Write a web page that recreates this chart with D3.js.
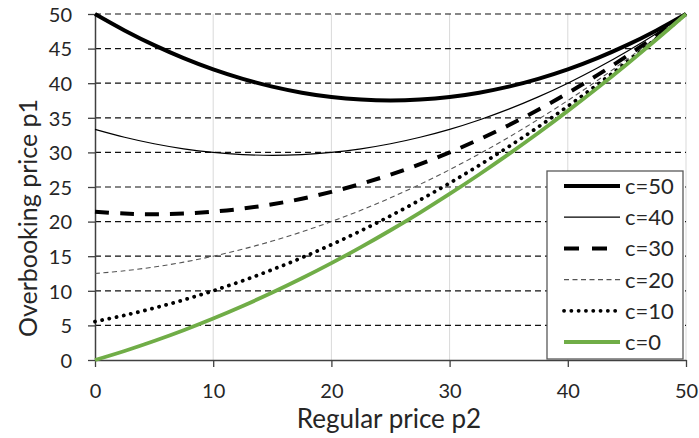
<!DOCTYPE html>
<html><head><meta charset="utf-8">
<script src="https://cdn.jsdelivr.net/npm/d3@7"></script>
<style>
body{margin:0;background:#fff}
text{font-family:Lato,"Open Sans",sans-serif;fill:#262626}
</style></head>
<body><svg id="chart" width="699" height="438"></svg>
<script>
// Regular price p2 (x values)
const p2 = [0,2.5,5,7.5,10,12.5,15,17.5,20,22.5,25,27.5,30,32.5,35,37.5,40,42.5,45,47.5,50];
// Overbooking price p1 for each c
const c50 = [50,47.63,45.5,43.63,42,40.63,39.5,38.63,38,37.63,37.5,37.63,38,38.63,39.5,40.63,42,43.63,45.5,47.63,50];
const c40 = [33.33,32.19,31.25,30.52,30,29.69,29.58,29.69,30,30.52,31.25,32.19,33.33,34.69,36.25,38.02,40,42.19,44.58,47.19,50];
const c30 = [21.43,21.16,21.07,21.16,21.43,21.88,22.5,23.3,24.29,25.45,26.79,28.3,30,31.88,33.93,36.16,38.57,41.16,43.93,46.88,50];
const c20 = [12.5,12.89,13.44,14.14,15,16.02,17.19,18.52,20,21.64,23.44,25.39,27.5,29.77,32.19,34.77,37.5,40.39,43.44,46.64,50];
const c10 = [5.56,6.46,7.5,8.68,10,11.46,13.06,14.79,16.67,18.68,20.83,23.13,25.56,28.13,30.83,33.68,36.67,39.79,43.06,46.46,50];
const c0  = [0,1.31,2.75,4.31,6,7.81,9.75,11.81,14,16.31,18.75,21.31,24,26.81,29.75,32.81,36,39.31,42.75,46.31,50];
const seriesNames = ["c=50","c=40","c=30","c=20","c=10","c=0"];
const seriesValues = [c50,c40,c30,c20,c10,c0];
const xTicks = [0,10,20,30,40,50];
const yTicks = [0,5,10,15,20,25,30,35,40,45,50];
const xTitle = "Regular price p2";
const yTitle = "Overbooking  price p1";

const styles = [
  {stroke:"#000", width:4, dash:null, cap:"butt"},
  {stroke:"#000", width:1.2, dash:null, cap:"butt"},
  {stroke:"#000", width:4, dash:"14,11", cap:"butt"},
  {stroke:"#555", width:1.1, dash:"5,3.5", cap:"butt"},
  {stroke:"#000", width:3.8, dash:"0.1,7.2", cap:"round"},
  {stroke:"#70AD47", width:3.8, dash:null, cap:"butt"}
];

const svg = d3.select("#chart");
const x = d3.scaleLinear().domain([0,50]).range([95,686]);
const y = d3.scaleLinear().domain([0,50]).range([360,14]);

// vertical gridlines
svg.append("g").selectAll("line").data(xTicks.slice(1)).join("line")
  .attr("x1",d=>x(d)).attr("x2",d=>x(d)).attr("y1",y(0)).attr("y2",y(50))
  .attr("stroke","#d9d9d9").attr("stroke-width",1);
// horizontal dashed gridlines
svg.append("g").selectAll("line").data(yTicks.slice(1)).join("line")
  .attr("x1",x(0)).attr("x2",x(50)).attr("y1",d=>y(d)).attr("y2",d=>y(d))
  .attr("stroke","#111").attr("stroke-width",1.2).attr("stroke-dasharray","6,4");

// axes
const xa = svg.append("g").attr("transform",`translate(0,${y(0)})`)
  .call(d3.axisBottom(x).tickValues(xTicks).tickSize(7).tickPadding(17).tickSizeOuter(0));
const ya = svg.append("g").attr("transform",`translate(${x(0)},0)`)
  .call(d3.axisLeft(y).tickValues(yTicks).tickSize(7).tickPadding(16).tickSizeOuter(0));
[xa,ya].forEach(a=>{
  a.select(".domain").attr("stroke","#404040").attr("stroke-width",1.5);
  a.selectAll(".tick line").attr("stroke","#404040").attr("stroke-width",1.3);
  a.selectAll("text").attr("font-size",20).attr("font-family","Lato").attr("fill","#262626");
});
ya.selectAll("text").attr("dy","0.36em");

// series lines
const line = d3.line().x((d,i)=>x(p2[i])).y(d=>y(d)).curve(d3.curveCatmullRom);
seriesValues.forEach((vals,k)=>{
  const s = styles[k];
  svg.append("path").attr("d",line(vals)).attr("fill","none")
    .attr("stroke",s.stroke).attr("stroke-width",s.width)
    .attr("stroke-dasharray",s.dash).attr("stroke-linecap",s.cap);
});

// titles
svg.append("text").attr("x",389).attr("y",428).attr("text-anchor","middle")
  .attr("font-size",26).text(xTitle);
svg.append("text").attr("transform","translate(37,218) rotate(-90)").attr("text-anchor","middle")
  .attr("font-size",25).text(yTitle);

// legend
const lg = svg.append("g");
lg.append("rect").attr("x",547).attr("y",171).attr("width",136).attr("height",188)
  .attr("fill","#fff").attr("stroke","#595959").attr("stroke-width",1.3);
const ly = d3.scalePoint().domain(seriesNames).range([186,342]);
seriesNames.forEach((n,k)=>{
  const s = styles[k];
  lg.append("line").attr("x1",564).attr("x2",620).attr("y1",ly(n)).attr("y2",ly(n))
    .attr("stroke",s.stroke).attr("stroke-width",s.width)
    .attr("stroke-dasharray",k===2?"15,13":s.dash).attr("stroke-linecap",s.cap);
  lg.append("text").attr("x",625).attr("y",ly(n)).attr("dy","0.36em")
    .attr("font-size",22).text(n);
});
</script></body></html>
